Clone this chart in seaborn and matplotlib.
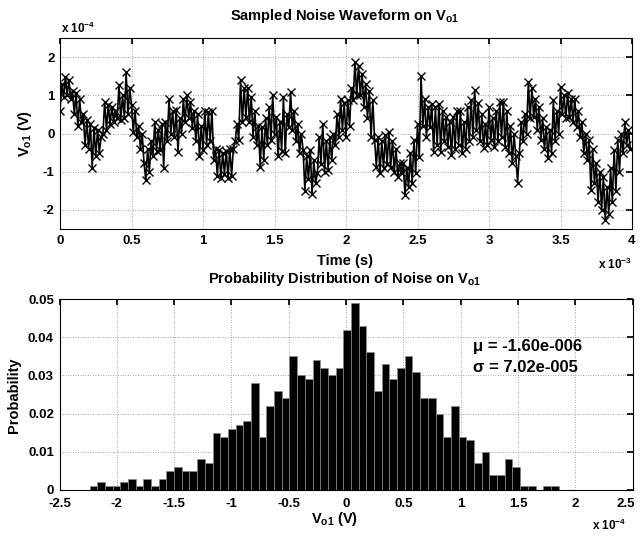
import numpy as np
import pandas as pd
import matplotlib
matplotlib.use('Agg')
import matplotlib.pyplot as plt
import matplotlib.transforms as mtransforms
import seaborn as sns

# Sampled noise on V_o1, in units of 1e-4 V, one sample every 0.0125 ms
v_o1 = [
    0.58, 1.30, 0.95, 1.48, 1.00, 1.40, 0.90, 1.10,
    0.50, 1.05, 0.19, 0.90, 0.30, 0.50, -0.30, 0.35,
    -0.40, 0.26, -0.91, 0.15, -0.60, 0.10, -0.50, -0.10,
    0.00, 0.83, 0.10, 0.75, 0.25, 0.70, 0.30, 0.60,
    0.40, 1.26, 0.35, 1.00, 0.40, 1.61, 0.50, 1.20,
    0.74, 0.05, 0.60, -0.10, 0.20, -0.40, 0.00, -0.78,
    -1.22, -0.40, -1.00, -0.20, -0.60, 0.30, -0.45, 0.10,
    -0.43, 0.26, -0.91, 0.30, -0.20, 0.91, 0.00, 0.60,
    -0.10, 0.61, -0.48, 0.40, 0.00, 0.90, 0.30, 1.00,
    0.40, 0.83, 0.15, 0.60, -0.20, 0.50, -0.60, 0.20,
    -0.43, 0.60, -0.30, 0.55, -0.20, 0.60, -0.70, -0.40,
    -1.10, -0.43, -1.17, -0.50, -1.05, -0.45, -1.17, -0.40,
    -1.10, -0.40, -0.20, 0.26, -0.17, 1.39, 0.30, 1.20,
    0.43, 1.20, 0.30, 0.95, -0.10, 0.60, -0.30, 0.20,
    -0.87, 0.17, -0.70, 0.40, -0.30, 0.70, -0.17, 1.00,
    0.00, 0.43, -0.60, 0.30, -0.45, 0.96, -0.50, 0.50,
    0.17, 1.09, 0.10, 0.60, -0.20, 0.26, -0.52, 0.00,
    -0.43, -1.50, -0.60, -1.20, -0.43, -1.58, -0.70, -1.30,
    -1.04, -0.09, -0.80, 0.26, -1.00, -0.20, -0.95, -0.10,
    -0.70, 0.00, -0.30, 0.50, -0.09, 0.91, 0.10, 0.80,
    -0.09, 0.87, 0.20, 1.20, 0.87, 1.87, 1.00, 1.78,
    1.00, 1.57, 0.70, 1.30, 0.40, 1.10, -0.09, 0.87,
    -0.17, -0.87, -0.10, -1.04, -0.20, -0.90, -0.04, -0.80,
    0.04, -0.87, -0.20, -1.00, -0.40, -1.13, -0.78, -1.00,
    -0.78, -1.61, -0.90, -1.40, -0.50, -1.30, -0.17, -1.04,
    0.26, -0.61, 1.50, 0.20, 0.90, -0.10, 0.70, 0.17,
    0.78, -0.48, 0.70, -0.30, 0.78, -0.48, 0.60, -0.20,
    0.43, -0.35, 0.30, -0.57, 0.43, -0.40, 0.59, -0.30,
    0.59, -0.52, 0.30, -0.40, 0.70, -0.20, 0.87, -0.09,
    1.13, 0.09, 0.80, -0.20, 0.50, -0.39, 0.26, -0.30,
    0.70, -0.17, 0.40, -0.35, 0.60, -0.20, 0.83, -0.10,
    0.83, -0.35, 0.60, -0.50, 0.20, -0.78, 0.00, -0.60,
    -1.29, -0.50, 0.30, -0.20, 0.52, 0.00, 1.35, 0.40,
    1.20, 0.43, 0.90, 0.10, 0.70, -0.17, 0.40, -0.40,
    0.17, -0.65, 0.10, -0.50, 0.87, -0.20, 0.60, 0.00,
    1.22, 0.52, 1.00, 0.40, 1.05, 0.43, 0.91, 0.30,
    0.91, 0.17, 0.60, -0.10, 0.30, -0.52, 0.00, -0.70,
    -0.17, -1.48, -0.40, -1.30, -0.78, -1.80, -1.00, -2.00,
    -1.13, -2.26, -1.40, -2.10, -0.90, -1.80, -0.43, -1.50,
    -0.17, -1.00, 0.00, -0.52, 0.30, -0.30, 0.10, -0.40,
]
dt_ms = 0.0125

# Histogram: counts per bin out of 1000 samples, bins in units of 1e-4 V
hist_counts = [1, 2, 1, 1, 2, 3, 1, 3, 1, 3, 5, 6, 5, 5, 8, 7,
               15, 14, 16, 17, 18, 28, 14, 22, 26, 24, 35, 30, 29, 34, 32,
               30, 32, 42, 49, 43, 36, 26, 33, 29, 32, 35, 31, 24, 24, 20,
               14, 22, 14, 13, 7, 10, 4, 4, 8, 6, 1, 1, 0, 1, 1]
n_samples = 1000
bin_start = -2.238
bin_width = 0.0671

mu_text = 'μ = -1.60e-006'
sigma_text = 'σ = 7.02e-005'

sns.set_theme(style='white')
plt.rcParams['font.family'] = ['Liberation Sans', 'DejaVu Sans']
plt.rcParams['font.weight'] = 'bold'
plt.rcParams['text.color'] = 'black'
plt.rcParams['mathtext.fontset'] = 'custom'
plt.rcParams['mathtext.rm'] = 'Liberation Sans:bold'
plt.rcParams['mathtext.it'] = 'Liberation Sans:bold'
plt.rcParams['mathtext.bf'] = 'Liberation Sans:bold'

wave = pd.DataFrame({'t': np.arange(len(v_o1)) * dt_ms, 'v': v_o1})
edges = bin_start + np.arange(len(hist_counts) + 1) * bin_width
hist = pd.DataFrame({'center': (edges[:-1] + edges[1:]) / 2,
                     'prob': np.array(hist_counts) / n_samples})

fig = plt.figure(figsize=(6.4, 5.36), dpi=100)
fig.patch.set_facecolor('white')
ax1 = fig.add_axes([60 / 640, 1 - 229 / 536, 572 / 640, 191 / 536])
ax2 = fig.add_axes([59.5 / 640, 1 - 490 / 536, 573 / 640, 191 / 536])

sns.lineplot(data=wave, x='t', y='v', ax=ax1, color='black', estimator=None,
             marker='x', markersize=5.5, markeredgecolor='black',
             markeredgewidth=1.0, linewidth=1.2)
sns.histplot(data=hist, x='center', weights='prob', bins=list(edges), ax=ax2,
             color='black', edgecolor='#8a8a8a', linewidth=0.5, alpha=1)

for ax in (ax1, ax2):
    ax.set_axisbelow(True)
    ax.grid(True, linestyle=(0, (1, 2)), color='#888888', linewidth=0.6)
    ax.tick_params(direction='in', length=4, top=True, right=True,
                   labelsize=9.5, pad=4, colors='black')
    for s in ax.spines.values():
        s.set_color('black')
        s.set_linewidth(0.8)
    ax.set_xlabel('')
    ax.set_ylabel('')
ax2.tick_params(axis='x', pad=6)

ax1.set_xlim(0, 4)
ax1.set_ylim(-2.5, 2.5)
ax1.set_xticks(np.arange(0, 4.01, 0.5))
ax1.set_yticks([-2, -1, 0, 1, 2])
ax1.set_xticklabels(['%g' % v for v in np.arange(0, 4.01, 0.5)], fontweight='bold')
ax1.set_yticklabels(['-2', '-1', '0', '1', '2'], fontweight='bold')

ax2.set_xlim(-2.5, 2.5)
ax2.set_ylim(0, 0.05)
ax2.set_xticks(np.arange(-2.5, 2.51, 0.5))
ax2.set_yticks(np.arange(0, 0.051, 0.01))
ax2.set_xticklabels(['%g' % round(v, 1) for v in np.arange(-2.5, 2.51, 0.5)], fontweight='bold')
ax2.set_yticklabels(['%g' % round(v, 2) for v in np.arange(0, 0.051, 0.01)], fontweight='bold')
# last label sits at the figure edge, nudge it left a little
last = ax2.get_xticklabels()[-1]
last.set_transform(last.get_transform() +
                   mtransforms.ScaledTranslation(-5 / 72, 0, fig.dpi_scale_trans))

fs = 10.5
fig.text(345 / 640, 1 - 16 / 536, r'Sampled Noise Waveform on V$_{\mathregular{o1}}$',
         ha='center', va='center', fontsize=fs, fontweight='bold')
fig.text(61 / 640, 1 - 33 / 536, r'x 10$^{\mathregular{-4}}$', ha='left', va='baseline',
         fontsize=8.5, fontweight='bold')
fig.text(25 / 640, 1 - 133 / 536, r'V$_{\mathregular{o1}}$ (V)', ha='center', va='center',
         rotation=90, fontsize=fs, fontweight='bold')
fig.text(345 / 640, 1 - 261 / 536, 'Time (s)', ha='center', va='center',
         fontsize=fs, fontweight='bold')
fig.text(598 / 640, 1 - 269 / 536, r'x 10$^{\mathregular{-3}}$', ha='left', va='baseline',
         fontsize=8.5, fontweight='bold')

fig.text(344 / 640, 1 - 279 / 536, r'Probability Distribution of Noise on V$_{\mathregular{o1}}$',
         ha='center', va='center', fontsize=fs, fontweight='bold')
fig.text(14 / 640, 1 - 395 / 536, 'Probability', ha='center', va='center',
         rotation=90, fontsize=fs, fontweight='bold')
fig.text(335 / 640, 1 - 519 / 536, r'V$_{\mathregular{o1}}$ (V)', ha='center', va='center',
         fontsize=fs, fontweight='bold')
fig.text(626 / 640, 1 - 530 / 536, r'x 10$^{\mathregular{-4}}$', ha='right', va='baseline',
         fontsize=8.5, fontweight='bold')

ax2.text(1.11, 0.0375, mu_text, ha='left', va='center', fontsize=12, fontweight='bold')
ax2.text(1.11, 0.0320, sigma_text, ha='left', va='center', fontsize=12, fontweight='bold')

fig.savefig('out.png', dpi=100)
